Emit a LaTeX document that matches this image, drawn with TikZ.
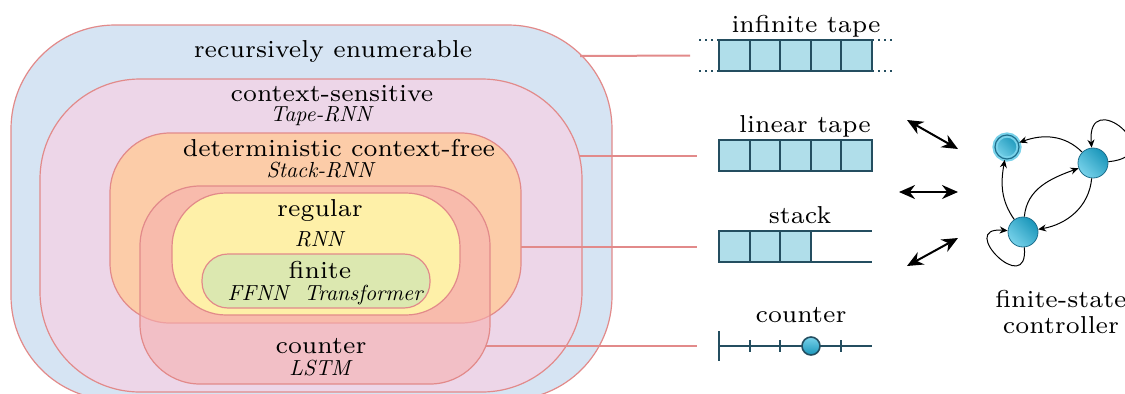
\documentclass[tikz,border=0pt]{standalone}
\usepackage{tikz}
\usetikzlibrary{arrows.meta}

\definecolor{reblue}{RGB}{214,228,243}
\definecolor{csmauve}{RGB}{237,214,232}
\definecolor{dcforange}{RGB}{252,204,168}
\definecolor{cntred}{RGB}{246,176,176}
\definecolor{regyellow}{RGB}{254,240,168}
\definecolor{fingreen}{RGB}{220,232,176}
\definecolor{regionline}{RGB}{226,138,138}
\definecolor{tapefill}{RGB}{176,222,234}
\definecolor{tapeline}{RGB}{36,78,96}
\definecolor{statelight}{RGB}{120,210,234}
\definecolor{statedark}{RGB}{26,150,186}
\definecolor{stateline}{RGB}{30,110,140}

\begin{document}
\begin{tikzpicture}[x=0.5pt,y=0.5pt,
    region/.style={draw=regionline, line width=0.6pt},
    link/.style={draw=regionline, line width=1pt},
    lbl/.style={font=\scriptsize, scale=1.75, anchor=base},
    sub/.style={font=\normalsize\itshape, scale=1.09, anchor=base},
    cell/.style={draw=tapeline, fill=tapefill, line width=1pt, minimum width=15.3pt,
        minimum height=15.5pt, inner sep=0pt, outer sep=0pt},
    tapeedge/.style={draw=tapeline, line width=1pt},
    state/.style={circle, draw=stateline, line width=0.4pt, minimum size=15pt, inner sep=0pt,
        top color=statedark, bottom color=statelight, shading angle=-45},
    move/.style={-{Stealth[length=4pt,width=3.5pt]}, line width=0.5pt},
    io/.style={{Stealth[length=8pt,width=7pt]}-{Stealth[length=8pt,width=7pt]}, line width=1pt}
]
    \useasboundingbox (0,0) rectangle (1125,-393);
    \clip (0,0) rectangle (1125,-393);

    % Nested language classes
    \draw[region, fill=reblue, rounded corners=52pt] (11,-25) rectangle (612,-400);
    \draw[region, fill=csmauve, rounded corners=50pt] (40,-79) rectangle (582,-392);
    \draw[region, fill=dcforange, rounded corners=30pt] (110,-133) rectangle (521,-323);
    \draw[region, fill=cntred, fill opacity=0.6, rounded corners=30pt] (140,-186) rectangle (490,-384);
    \draw[region, fill=regyellow, rounded corners=27pt] (172,-193) rectangle (460,-315);
    \draw[region, fill=fingreen, rounded corners=13pt] (202,-254) rectangle (430,-308);

    % Class names and models
    \node[lbl] (reT) at (333,-57) {recursively enumerable};
    \node[lbl] (csT) at (332,-101) {context-sensitive};
    \node[sub] (csM) at (321,-121) {Tape-RNN};
    \node[lbl] (dcfT) at (339,-156) {deterministic context-free};
    \node[sub] (dcfM) at (320,-177) {Stack-RNN};
    \node[lbl] (regT) at (320,-216) {regular};
    \node[sub] (regM) at (319,-246) {RNN};
    \node[lbl] (finT) at (320,-278) {finite};
    \node[sub] (finM) at (325,-300) {FFNN~ Transformer};
    \node[lbl] (cntT) at (321,-353) {counter};
    \node[sub] (cntM) at (320,-375) {LSTM};

    % Infinite tape
    \foreach \i in {1,...,5}
        \node[cell] (inf\i) at ({719+30.6*\i-15.3},-55.5) {};
    \draw[tapeedge, dotted] (inf1.north west) -- ++(-22,0);
    \draw[tapeedge, dotted] (inf1.south west) -- ++(-22,0);
    \draw[tapeedge, dotted] (inf5.north east) -- ++(22,0);
    \draw[tapeedge, dotted] (inf5.south east) -- ++(22,0);
    \node[lbl] (infT) at (806,-32) {infinite tape};

    % Linear tape
    \foreach \i in {1,...,5}
        \node[cell] (lin\i) at ({719+30.6*\i-15.3},-155.5) {};
    \node[lbl] (linT) at (805,-132) {linear tape};

    % Stack
    \foreach \i in {1,...,3}
        \node[cell] (stk\i) at ({719+30.6*\i-15.3},-246.5) {};
    \draw[tapeedge] (stk3.north east) -- ++(61,0);
    \draw[tapeedge] (stk3.south east) -- ++(61,0);
    \node[lbl] (stkT) at (800,-223) {stack};

    % Counter
    \coordinate (cnt) at (719,-346);
    \draw[tapeedge] (cnt) -- ++(153,0);
    \draw[tapeedge] (719,-331) -- (719,-361);
    \foreach \x in {750,780,841}
        \draw[tapeedge] (\x,-340) -- (\x,-352);
    \node[circle, draw=tapeline, line width=0.8pt, minimum size=9pt, inner sep=0pt,
        top color=statelight, bottom color=statedark] (pos) at (811,-346) {};
    \node[lbl] (cntR) at (801,-322) {counter};

    % Links from classes to memory
    \coordinate (reE) at (580,-56);
    \coordinate (csE) at (580,-155.5);
    \coordinate (dcfE) at (521,-246.5);
    \coordinate (cntE) at (486,-346);
    \draw[link] (reE) -- ([xshift=-14.5pt]inf1.west);
    \draw[link] (csE) -- ([xshift=-11pt]lin1.west);
    \draw[link] (dcfE) -- ([xshift=-11pt]stk1.west);
    \draw[link] (cntE) -- ([xshift=-11pt]cnt);

    % Read/write access
    \coordinate (io1a) at (907,-120);
    \coordinate (io1b) at (958,-149);
    \coordinate (io2a) at (899,-192);
    \coordinate (io2b) at (958,-192);
    \coordinate (io3a) at (907,-266);
    \coordinate (io3b) at (958,-238);
    \draw[io] (io1a) -- (io1b);
    \draw[io] (io2a) -- (io2b);
    \draw[io] (io3a) -- (io3b);

    % Finite-state controller
    \node[state, minimum size=12pt, draw=statelight, line width=1pt, double=stateline,
        double distance=0.6pt] (A) at (1007,-147) {};
    \node[state] (B) at (1093,-163) {};
    \node[state] (C) at (1023,-232) {};
    \draw[move] (B) to[out=135, in=20] (A);
    \draw[move] (C) to[out=125, in=-100] (A);
    \draw[move] (C) to[out=85, in=200] (B);
    \draw[move] (B) to[out=-95, in=10] (C);
    \draw[move] (B) to[out=5, in=95, min distance=32pt] (B);
    \draw[move] (C) to[out=-85, in=175, min distance=26pt] (C);
    \node[font=\scriptsize, scale=1.75, align=center] (ctrl) at (1061,-312)
        {finite-state\\[-0.6pt]controller};
\end{tikzpicture}
\end{document}
